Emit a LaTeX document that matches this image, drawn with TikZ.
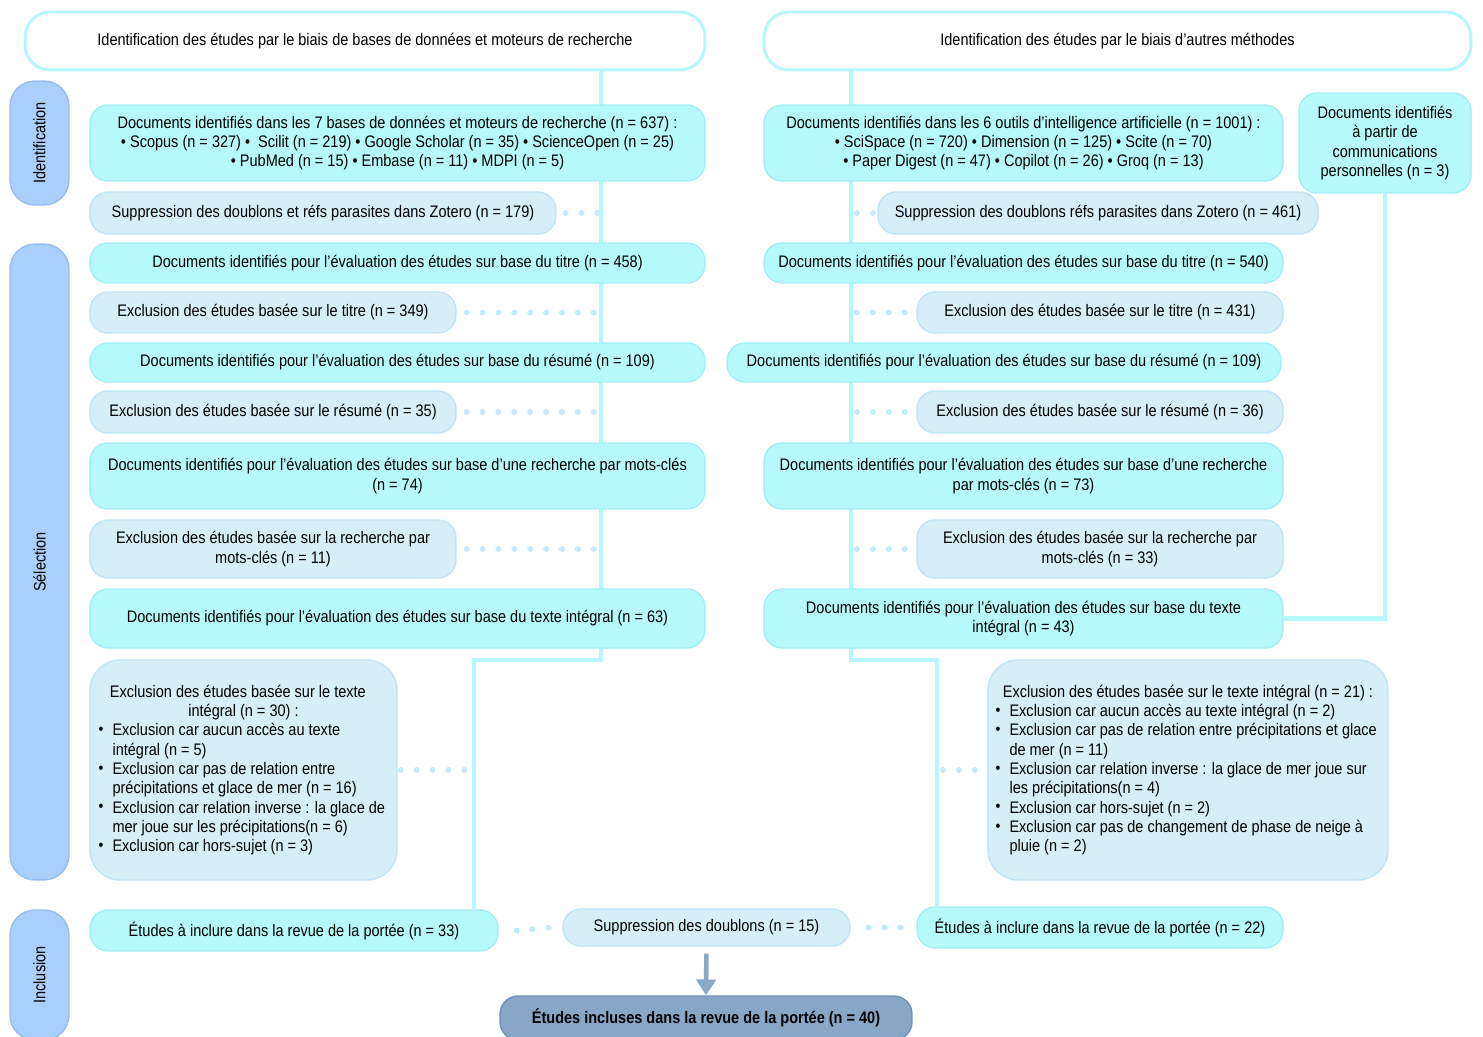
\documentclass[tikz,border=0pt]{standalone}
\usepackage{fontspec}
\setmainfont{Liberation Sans}[FakeStretch=0.87]
\usepackage{tikz}
\usetikzlibrary{positioning,backgrounds,arrows.meta}

\definecolor{docfill}{HTML}{B5F9FA}
\definecolor{docline}{HTML}{A3EEF4}
\definecolor{exclfill}{HTML}{D6EEF8}
\definecolor{exclline}{HTML}{BFE4F5}
\definecolor{phasefill}{HTML}{AACFFA}
\definecolor{phaseline}{HTML}{94BDF3}
\definecolor{finalfill}{HTML}{88A6C6}
\definecolor{finalline}{HTML}{7391B5}
\definecolor{spinecol}{HTML}{B5F7FA}
\definecolor{dotcol}{HTML}{C7E8F8}
\definecolor{arrowcol}{HTML}{8AA8C8}

\newcommand{\bul}[1]{\par\hangindent=0.28cm\hangafter=1\noindent\makebox[0.28cm][l]{\raisebox{0.15ex}{\small•}}#1\par}

\begin{document}
\begin{tikzpicture}[x=0.02cm, y=-0.02cm,
basebox/.style={rounded corners=0.36cm, font=\fontsize{9.5}{11}\selectfont, align=center, inner sep=0pt, line width=0.8pt},
docnode/.style={basebox, fill=docfill, draw=docline},
exclnode/.style={basebox, fill=exclfill, draw=exclline},
listnode/.style={exclnode, rounded corners=0.6cm, align=flush left, inner xsep=0.15cm},
headnode/.style={basebox, rounded corners=0.5cm, fill=white, draw=spinecol, line width=1.7pt, minimum height=1.16cm},
phasenode/.style={basebox, rounded corners=0.5cm, fill=phasefill, draw=phaseline, rotate=90, minimum height=1.18cm},
finalnode/.style={basebox, fill=finalfill, draw=finalline, font=\fontsize{9.5}{11}\selectfont\bfseries},
spine/.style={draw=spinecol, line width=2.3pt},
dots/.style={draw=dotcol, line width=3.4pt, line cap=round, dash pattern=on 0pt off 0.318cm},
]
\useasboundingbox (0,0) rectangle (1483,1037);

%Headers
\node[headnode, minimum width=13.6cm]  (hdL) at (365,41)    {Identification des études par le biais de bases de données et moteurs de recherche};
\node[headnode, minimum width=14.14cm] (hdR) at (1117.5,41) {Identification des études par le biais d’autres méthodes};

%Phases
\node[phasenode, minimum width=2.48cm]  (phI) at (39.5,143) {Identification};
\node[phasenode, minimum width=12.72cm] (phS) at (39.5,562) {Sélection};
\node[phasenode, minimum width=2.6cm]   (phN) at (39.5,975) {Inclusion};

%Left column
\node[docnode,  minimum width=12.3cm, minimum height=1.52cm] (L1) at (397.5,143) {Documents identifiés dans les 7 bases de données et moteurs de recherche (n = 637) :\\• Scopus (n = 327) •\ \ Scilit (n = 219) • Google Scholar (n = 35) • ScienceOpen (n = 25)\\• PubMed (n = 15) • Embase (n = 11) • MDPI (n = 5)};
\node[exclnode, minimum width=9.32cm, minimum height=0.84cm] (L2) at (323,213)    {Suppression des doublons et réfs parasites dans Zotero (n = 179)};
\node[docnode,  minimum width=12.3cm, minimum height=0.8cm]  (L3) at (397.5,263)  {Documents identifiés pour l'évaluation des études sur base du titre (n = 458)};
\node[exclnode, minimum width=7.32cm, minimum height=0.82cm] (L4) at (273,312.5)  {Exclusion des études basée sur le titre (n = 349)};
\node[docnode,  minimum width=12.3cm, minimum height=0.78cm] (L5) at (397.5,362.5) {Documents identifiés pour l'évaluation des études sur base du résumé (n = 109)};
\node[exclnode, minimum width=7.32cm, minimum height=0.84cm] (L6) at (273,412)    {Exclusion des études basée sur le résumé (n = 35)};
\node[docnode,  minimum width=12.3cm, minimum height=1.32cm] (L7) at (397.5,476)  {Documents identifiés pour l'évaluation des études sur base d’une recherche par mots-clés\\(n = 74)};
\node[exclnode, minimum width=7.32cm, minimum height=1.16cm] (L8) at (273,549)    {Exclusion des études basée sur la recherche par\\mots-clés (n = 11)};
\node[docnode,  minimum width=12.3cm, minimum height=1.18cm] (L9) at (397.5,618.5) {Documents identifiés pour l'évaluation des études sur base du texte intégral (n = 63)};
\node[listnode, text width=5.8cm, minimum height=4.4cm, inner xsep=0.17cm] (L10) at (243.5,770) {%
{\centering Exclusion des études basée sur le texte\newline intégral (n = 30) :\par}
\bul{Exclusion car aucun accès au texte\newline intégral (n = 5)}
\bul{Exclusion car pas de relation entre\newline précipitations et glace de mer (n = 16)}
\bul{Exclusion car relation inverse : la glace de\newline mer joue sur les précipitations(n = 6)}
\bul{Exclusion car hors-sujet (n = 3)}};
\node[docnode,  minimum width=8.16cm, minimum height=0.82cm] (L11) at (294,930.5) {Études à inclure dans la revue de la portée (n = 33)};

%Right column
\node[docnode,  minimum width=10.38cm, minimum height=1.52cm] (R1) at (1023.5,143) {Documents identifiés dans les 6 outils d’intelligence artificielle (n = 1001) :\\• SciSpace (n = 720) • Dimension (n = 125) • Scite (n = 70)\\• Paper Digest (n = 47) • Copilot (n = 26) • Groq (n = 13)};
\node[docnode,  minimum width=3.44cm, minimum height=2cm]     (Rp) at (1385,143)    {Documents identifiés\\à partir de\\communications\\personnelles (n = 3)};
\node[exclnode, minimum width=8.8cm, minimum height=0.84cm]   (R2) at (1098,213)    {Suppression des doublons réfs parasites dans Zotero (n = 461)};
\node[docnode,  minimum width=10.38cm, minimum height=0.8cm]  (R3) at (1023.5,263)  {Documents identifiés pour l'évaluation des études sur base du titre (n = 540)};
\node[exclnode, minimum width=7.32cm, minimum height=0.82cm]  (R4) at (1100,312.5)  {Exclusion des études basée sur le titre (n = 431)};
\node[docnode,  minimum width=11.08cm, minimum height=0.78cm] (R5) at (1004,362.5)  {Documents identifiés pour l'évaluation des études sur base du résumé (n = 109)};
\node[exclnode, minimum width=7.32cm, minimum height=0.84cm]  (R6) at (1100,412)    {Exclusion des études basée sur le résumé (n = 36)};
\node[docnode,  minimum width=10.38cm, minimum height=1.32cm] (R7) at (1023.5,476)  {Documents identifiés pour l'évaluation des études sur base d’une recherche\\par mots-clés (n = 73)};
\node[exclnode, minimum width=7.32cm, minimum height=1.16cm]  (R8) at (1100,549)    {Exclusion des études basée sur la recherche par\\mots-clés (n = 33)};
\node[docnode,  minimum width=10.38cm, minimum height=1.18cm] (R9) at (1023.5,618.5) {Documents identifiés pour l'évaluation des études sur base du texte\\intégral (n = 43)};
\node[listnode, text width=7.7cm, minimum height=4.4cm] (R10) at (1188,770) {%
{\centering Exclusion des études basée sur le texte intégral (n = 21) :\par}
\bul{Exclusion car aucun accès au texte intégral (n = 2)}
\bul{Exclusion car pas de relation entre précipitations et glace\newline de mer (n = 11)}
\bul{Exclusion car relation inverse : la glace de mer joue sur\newline les précipitations(n = 4)}
\bul{Exclusion car hors-sujet (n = 2)}
\bul{Exclusion car pas de changement de phase de neige à\newline pluie (n = 2)}};
\node[docnode,  minimum width=7.32cm, minimum height=0.82cm]  (R11) at (1100,927.5) {Études à inclure dans la revue de la portée (n = 22)};

%Merge
\node[exclnode,  minimum width=5.74cm, minimum height=0.74cm] (M) at (706.5,927.5) {Suppression des doublons (n = 15)};
\node[finalnode, minimum width=8.24cm, minimum height=0.88cm] (F) at (706,1018)    {Études incluses dans la revue de la portée (n = 40)};

%Lines
\coordinate (lsp)   at (601,0);
\coordinate (rsp)   at (851,0);
\coordinate (lturn) at (474,660);
\coordinate (rturn) at (937,660);

\begin{scope}[on background layer]
\draw[dots] ([xshift=0.18cm]L2.east)  -- (L2.east -| lsp);
\draw[dots] ([xshift=0.2cm]L4.east)   -- (L4.east -| lsp);
\draw[dots] ([xshift=0.2cm]L6.east)   -- (L6.east -| lsp);
\draw[dots] ([xshift=0.2cm]L8.east)   -- (L8.east -| lsp);
\draw[dots] ([xshift=0.06cm]L10.east) -- (L10.east -| lturn);
\draw[dots] ([xshift=0.36cm]L11.east) -- ([xshift=-0.2cm]M.west);
\draw[dots] ([xshift=0.36cm]M.east)   -- ([xshift=-0.2cm]R11.west);
\draw[dots] ([xshift=0.12cm]R2.west -| rsp)  -- (R2.west);
\draw[dots] ([xshift=0.12cm]R4.west -| rsp)  -- (R4.west);
\draw[dots] ([xshift=0.12cm]R6.west -| rsp)  -- (R6.west);
\draw[dots] ([xshift=0.12cm]R8.west -| rsp)  -- (R8.west);
\draw[dots] ([xshift=0.12cm]R10.west -| rturn) -- (R10.west);

\draw[spine] (hdL.south -| lsp) |- (lturn) -- (lturn |- L11.north);
\draw[spine] (hdR.south -| rsp) |- (rturn) -- (rturn |- R11.north);
\draw[spine] (Rp.south) |- (R9.east);
\end{scope}

\draw[draw=arrowcol, line width=2.6pt, -{Triangle[width=11pt, length=9pt]}, shorten <=0.14cm] (M.south) -- (F.north);

\end{tikzpicture}
\end{document}
